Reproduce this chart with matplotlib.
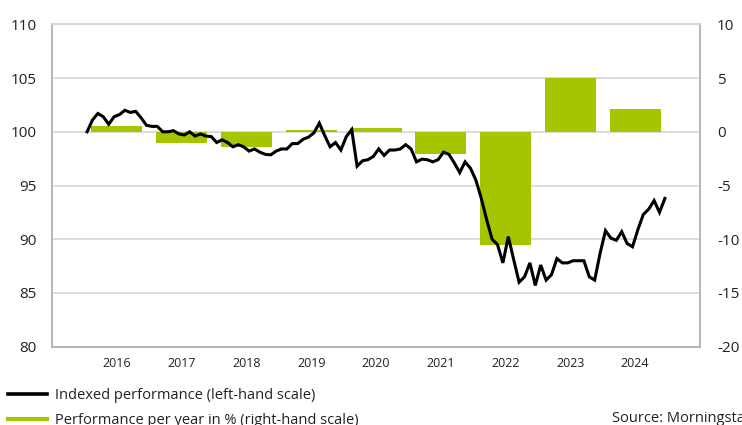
import matplotlib
matplotlib.use("Agg")
import matplotlib.pyplot as plt
from matplotlib.lines import Line2D
import numpy as np

plt.rcParams['font.family'] = ['Open Sans', 'DejaVu Sans']

# ---- data ----
years = [2016, 2017, 2018, 2019, 2020, 2021, 2022, 2023, 2024]
annual_perf = [0.5, -1.0, -1.4, 0.2, 0.35, -2.1, -10.5, 5.0, 2.1]

index_values = [
    100.0, 101.1, 101.7, 101.4, 100.7, 101.4, 101.6, 102.0, 101.8, 101.9, 101.3, 100.6,
    100.5, 100.5, 100.0, 100.0, 100.1, 99.8, 99.7, 100.0, 99.6, 99.8,
    99.6, 99.55, 99.0, 99.25, 99.0, 98.6, 98.8, 98.6, 98.2, 98.4, 98.1, 97.9,
    97.85, 98.2, 98.4, 98.4, 98.9, 98.9, 99.3, 99.5, 99.9, 100.8, 99.65, 98.6,
    99.0, 98.3, 99.55, 100.2, 96.8, 97.3, 97.4, 97.7, 98.4, 97.8, 98.3, 98.3,
    98.4, 98.8, 98.4, 97.2, 97.45, 97.4, 97.2,
    97.4, 98.1, 97.9, 97.1, 96.2, 97.2, 96.6, 95.5, 93.8, 91.8, 90.0, 89.5,
    87.8, 90.25, 88.1, 86.0, 86.5, 87.8, 85.7,
    87.6, 86.2, 86.7, 88.2, 87.8, 87.8, 88.0, 88.0, 88.0, 86.5, 86.2, 88.7,
    90.8, 90.1, 89.9, 90.7, 89.6, 89.3, 90.9, 92.3, 92.8, 93.6, 92.5, 93.8,
]
# monthly observations, Jan 2016 .. Dec 2024 (decimal years, mid-month)
months = 2016 + (np.arange(len(index_values)) + 0.5) / 12.0

left_ticks = [80, 85, 90, 95, 100, 105, 110]
right_ticks = [-20, -15, -10, -5, 0, 5, 10]

GREEN = '#a6c400'
SPINE = '#b4b4b4'
GRID = '#d6d6d6'
TXT = '#222222'

fig = plt.figure(figsize=(7.42, 4.25), dpi=100)
W, H = 742, 425
ax = fig.add_axes([52 / W, (H - 346.7) / H, 648 / W, 322.4 / H])
ax2 = ax.twinx()
ax.set_zorder(ax2.get_zorder() + 1)
ax.patch.set_visible(False)

# bars (right scale)
bar_x = [y + 0.5 for y in years]
ax2.bar(bar_x, annual_perf, width=0.79, color=GREEN, zorder=2)
ax2.set_ylim(-20, 10)
ax2.set_yticks(right_ticks)
ax2.set_yticklabels([str(t) for t in right_ticks])
ax2.yaxis.grid(True, color=GRID, linewidth=1.2, zorder=0)
ax2.set_axisbelow(True)

# line (left scale)
line, = ax.plot(months, index_values, color='black', linewidth=2.2,
                solid_joinstyle='miter', zorder=3)
ax.set_ylim(80, 110)
ax.set_yticks(left_ticks)
ax.set_xlim(2015.5, 2025.5)
ax.set_xticks(bar_x)
ax.set_xticklabels([str(y) for y in years])

for a in (ax, ax2):
    for side in ('left', 'right', 'bottom'):
        a.spines[side].set_color(SPINE)
        a.spines[side].set_linewidth(1.2)
    a.spines['top'].set_color(GRID)
    a.spines['top'].set_linewidth(1.2)
    a.tick_params(length=0, colors=TXT)

ax.tick_params(axis='y', labelsize=11, pad=10.8)
ax2.tick_params(axis='y', labelsize=11, pad=12.2)
ax.tick_params(axis='x', labelsize=9, pad=7.2)

green_handle = Line2D([], [], color=GREEN, linewidth=3)
black_handle = Line2D([], [], color='black', linewidth=2.6)
fig.legend([black_handle, green_handle],
           ['Indexed performance (left-hand scale)',
            'Performance per year in % (right-hand scale)'],
           loc='upper left', bbox_to_anchor=(8 / W, 1 - 388 / H),
           frameon=False, fontsize=10.5, handlelength=2.67, handletextpad=0.55,
           borderpad=0, borderaxespad=0, labelspacing=0.68, labelcolor=TXT)

fig.text(612 / W, 1 - 418 / H, 'Source: Morningstar', fontsize=10.5,
         va='center', ha='left', color=TXT)

fig.savefig('out.png', dpi=100)
